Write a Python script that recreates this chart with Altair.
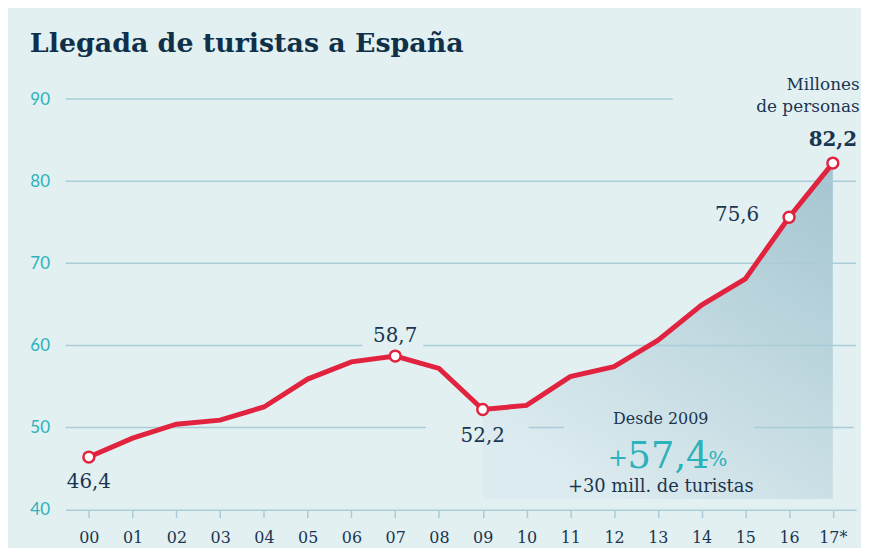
import altair as alt
import pandas as pd

# ---- data ----
year_labels = ["00", "01", "02", "03", "04", "05", "06", "07", "08", "09",
               "10", "11", "12", "13", "14", "15", "16", "17*"]
tourists = [46.4, 48.7, 50.4, 50.9, 52.5, 55.9, 58.0, 58.7, 57.2, 52.2,
            52.7, 56.2, 57.4, 60.6, 64.9, 68.1, 75.6, 82.2]
highlight_idx = [0, 7, 9, 16, 17]
area_from = 9
area_floor = 41.3

# gridline segments (value, start index, end index)
grid_value = [90, 80, 70, 60, 60, 50, 50, 50]
grid_start = [-0.53, -0.53, -0.53, -0.53, 7.64, -0.53, 10.05, 15.2]
grid_end = [13.34, 17.53, 17.53, 6.25, 17.53, 7.7, 10.85, 17.48]

BG = "#e2f0f2"
GRID = "#a9ccd6"
RED = "#e2233f"
NAVY = "#1a3550"
TEAL = "#2bb2ba"
SERIF = "DejaVu Serif"

idx = list(range(len(year_labels)))
df = pd.DataFrame({"i": idx, "v": tourists, "lab": year_labels})
df_area = df[df["i"] >= area_from]
df_pts = df[df["i"].isin(highlight_idx)]
df_grid = pd.DataFrame({"g": grid_value, "s": grid_start, "e": grid_end})

xscale = alt.Scale(domain=[-0.53, 17.53], nice=False, zero=False)
yscale = alt.Scale(domain=[40, 90], nice=False, zero=False)

label_expr = "[" + ",".join("'%s'" % l for l in year_labels) + "][datum.value]"

x_axis = alt.Axis(values=idx, labelExpr=label_expr, title=None, grid=False,
                  domainColor=GRID, domainWidth=1.5, tickColor=GRID, tickWidth=1.5,
                  tickSize=8, labelPadding=12, labelFont=SERIF, labelFontSize=16,
                  labelColor=NAVY)
y_axis = alt.Axis(values=[40, 50, 60, 70, 80, 90], title=None, grid=False, domain=False,
                  ticks=False, tickSize=0, labelAlign="left", labelPadding=36,
                  labelFont="Lato", labelFontSize=17, labelColor=TEAL,
                  labelBaseline="middle")

base = alt.Chart(df)

area = alt.Chart(df_area).mark_area(
    fill=alt.Gradient(
        gradient="linear",
        stops=[alt.GradientStop(color="#a3c5d0", offset=0),
               alt.GradientStop(color="#dcebef", offset=1)],
        x1=1, y1=0, x2=0.35, y2=1),
    line=False,
).encode(
    x=alt.X("i:Q", scale=xscale, axis=x_axis),
    y=alt.Y("v:Q", scale=yscale, axis=y_axis),
    y2=alt.datum(area_floor),
)

grid = alt.Chart(df_grid).mark_rule(color=GRID, strokeWidth=1.5).encode(
    x=alt.X("s:Q", scale=xscale), x2="e:Q", y=alt.Y("g:Q", scale=yscale))

line = base.mark_line(color=RED, strokeWidth=5, strokeJoin="miter").encode(
    x=alt.X("i:Q", scale=xscale), y=alt.Y("v:Q", scale=yscale))

pts = alt.Chart(df_pts).mark_point(filled=True, fill="white", stroke=RED,
                                   strokeWidth=2.5, size=120, opacity=1).encode(
    x=alt.X("i:Q", scale=xscale), y=alt.Y("v:Q", scale=yscale))


def lbl(i, text, dx=0, dy=0, align="center", size=20, weight="normal", color=NAVY,
        font=SERIF, yval=None):
    d = pd.DataFrame({"i": [i], "v": [tourists[i] if yval is None else yval], "t": [text]})
    return alt.Chart(d).mark_text(dx=dx, dy=dy, align=align, baseline="middle",
                                  fontSize=size, fontWeight=weight, color=color,
                                  font=font).encode(
        x=alt.X("i:Q", scale=xscale), y=alt.Y("v:Q", scale=yscale), text="t:N")


labels = [
    lbl(0, "46,4", dy=25),
    lbl(7, "58,7", dy=-20),
    lbl(9, "52,2", dy=27),
    lbl(16, "75,6", dx=-30, dy=-2, align="right"),
    lbl(17, "82,2", dy=-23, weight="bold"),
    lbl(17, "Millones", dx=27, dy=-14, align="right", size=17, yval=90),
    lbl(17, "de personas", dx=27, dy=8, align="right", size=17, yval=90),
    lbl(13, "Desde 2009", dx=3, size=16, yval=51.0),
    lbl(13, "+", dx=-30, dy=2, align="right", size=24, color=TEAL, yval=46.4),
    lbl(13, "57,4", dx=52, align="right", size=37, color=TEAL, yval=46.4),
    lbl(13, "%", dx=51, dy=3, align="left", size=20, color=TEAL, yval=46.4),
    lbl(13, "+30 mill. de turistas", dx=3, size=18, yval=42.7),
]

chart = alt.layer(area, grid, line, pts, *labels).properties(
    width=795, height=413,
    autosize=alt.AutoSizeParams(type="none"),
    padding={"left": 58, "top": 90, "right": 5, "bottom": 37},
    background=BG,
    title=alt.TitleParams("Llegada de turistas a España", anchor="start", frame="group",
                          dx=-36, offset=18, font=SERIF, fontSize=27, fontWeight="bold",
                          color="#10304a"),
).configure_view(stroke=None)

chart.save("out.html", embed_options={"renderer": "svg", "actions": False})
